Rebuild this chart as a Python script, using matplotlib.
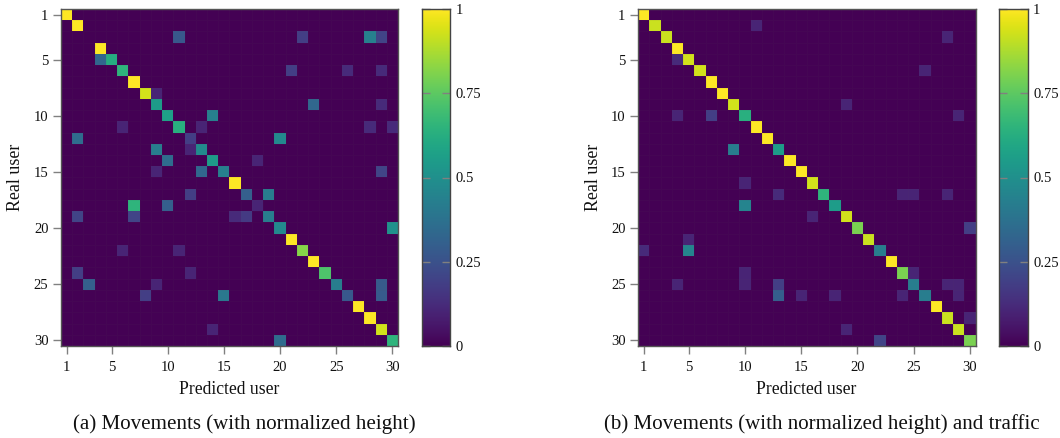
import numpy as np
import matplotlib
matplotlib.use("Agg")
import matplotlib.pyplot as plt

plt.rcParams['font.family'] = ['Liberation Serif', 'DejaVu Serif']

W, H = 1060, 438
N = 30

# Left matrix: diagonal then off-diagonal entries (1-based row, col)
left_diag = [1, 1, 0, 1, .62, .65, 1, .93, .55, .57, .63, .18, .48, .55, .43, 1,
             .30, .10, .42, .47, 1, .82, 1, .72, .42, .27, 1, 1, .93, .65]
left_rows = [3, 3, 3, 3, 5, 6, 6, 6, 8, 9, 9, 10, 11, 11, 11, 11, 12, 12, 13, 13, 14, 14, 15, 15, 15,
             17, 17, 18, 18, 19, 19, 19, 19, 20, 22, 22, 24, 24, 25, 25, 25, 26, 26, 26, 29, 30]
left_cols = [11, 22, 28, 29, 4, 21, 26, 29, 9, 23, 29, 14, 6, 13, 28, 30, 2, 20, 9, 12, 10, 18, 9, 13, 29,
             12, 19, 7, 10, 2, 7, 16, 17, 30, 6, 11, 2, 12, 3, 9, 29, 8, 15, 29, 14, 20]
left_vals = [.27, .18, .43, .20, .33, .18, .12, .12, .10, .33, .12, .43, .10, .10, .12, .12, .35, .47, .42, .10, .35, .10, .10, .33, .20,
             .18, .42, .65, .30, .20, .20, .12, .17, .50, .10, .10, .18, .10, .30, .10, .28, .18, .40, .28, .10, .35]

# Right matrix
right_diag = [1, .92, .92, 1, .93, .93, 1, 1, .93, .63, 1, 1, .55, 1, 1, .93,
              .65, .55, .93, .80, .92, .42, 1, .80, .42, .42, 1, .92, .92, .80]
right_rows = [2, 3, 5, 6, 9, 10, 10, 10, 13, 16, 17, 17, 17, 17, 18, 19, 20, 21, 22, 22,
              24, 24, 25, 25, 25, 25, 25, 26, 26, 26, 26, 26, 28, 29, 30]
right_cols = [11, 28, 4, 26, 19, 4, 7, 29, 9, 10, 13, 24, 25, 28, 10, 16, 30, 5, 1, 5,
              10, 25, 4, 10, 13, 28, 29, 13, 15, 18, 24, 29, 30, 19, 22]
right_vals = [.10, .10, .12, .10, .10, .10, .18, .10, .42, .10, .12, .10, .10, .10, .45, .10, .18, .10, .12, .45,
              .10, .10, .10, .10, .18, .10, .10, .30, .10, .10, .10, .10, .10, .10, .20]

ticks = [1, 5, 10, 15, 20, 25, 30]
cbar_ticks = [0, .25, .5, .75, 1]
cbar_labels = ['0', '0.25', '0.5', '0.75', '1']
captions = ['(a) Movements (with normalized height)', '(b) Movements (with normalized height) and traffic']
xlabel = 'Predicted user'
ylabel = 'Real user'


def matrix(diag, rows, cols, vals):
    m = np.zeros((N, N))
    m[np.arange(N), np.arange(N)] = diag
    for r, c, v in zip(rows, cols, vals):
        m[r - 1, c - 1] = v
    return m


def rect(x0, y0, x1, y1):
    return [x0 / W, 1 - y1 / H, (x1 - x0) / W, (y1 - y0) / H]


fig = plt.figure(figsize=(W / 100, H / 100), dpi=100)
GREY = '#808080'
FS = 10.5
INK = '#111111'


def panel(m, x0, x1, cx0, cx1, cap_x, xl_x, yl_x, caption):
    ax = fig.add_axes(rect(x0, 9, x1, 346))
    ax.pcolormesh(np.arange(N + 1) + .5, np.arange(N + 1) + .5, m, cmap='viridis', vmin=0, vmax=1,
                  edgecolors=(.35, .3, .35, .07), linewidth=0.4)
    ax.set_xlim(.5, N + .5)
    ax.set_ylim(N + .5, .5)
    ax.set_xticks(ticks)
    ax.set_yticks(ticks)
    ax.tick_params(length=5.5, width=1, color=GREY, labelsize=FS, labelcolor=INK)
    ax.tick_params(axis='x', pad=5)
    ax.tick_params(axis='y', pad=3.5)
    for s in ax.spines.values():
        s.set_color('#555555')
        s.set_linewidth(1)

    cax = fig.add_axes(rect(cx0, 9, cx1, 346))
    grad = np.linspace(0, 1, 256).reshape(-1, 1)
    cax.imshow(grad, cmap='viridis', aspect='auto', origin='lower', extent=[0, 1, 0, 1], vmin=0, vmax=1)
    cax.set_xticks([])
    cax.yaxis.tick_right()
    cax.set_yticks(cbar_ticks)
    cax.set_yticklabels(cbar_labels)
    cax.tick_params(axis='y', direction='in', length=5.5, width=1, color=GREY, labelsize=FS, pad=4,
                    left=True, right=True, labelcolor=INK)
    for s in cax.spines.values():
        s.set_color('#444444')
        s.set_linewidth(1)

    fig.text(xl_x / W, 1 - 390 / H, xlabel, ha='center', va='center', fontsize=12.7, color=INK)
    fig.text(yl_x / W, 1 - 177 / H, ylabel, ha='center', va='center', rotation=90, fontsize=12.9, color=INK)
    fig.text(cap_x / W, 1 - 424 / H, caption, ha='center', va='center', fontsize=15.1, color=INK)


left = matrix(left_diag, left_rows + [16], left_cols + [16], left_vals + [1])
right = matrix(right_diag, right_rows, right_cols, right_vals)
panel(left, 61, 398, 421.5, 450, 244.5, 229, 16, captions[0])
panel(right, 638, 975.5, 999, 1027.5, 821.5, 806, 593, captions[1])

fig.savefig('out.png', dpi=100)
